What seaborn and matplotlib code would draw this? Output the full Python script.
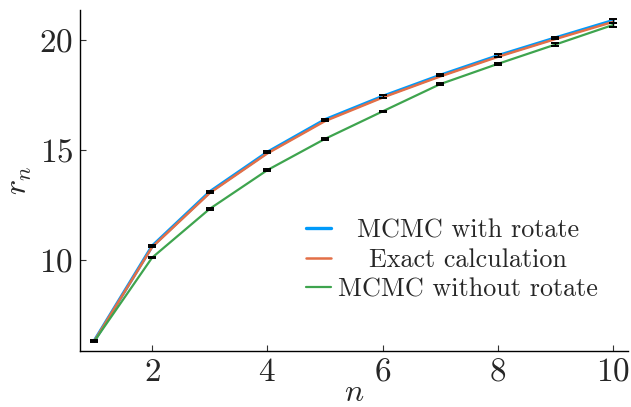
import seaborn as sns, pandas as pd, numpy as np
import matplotlib
matplotlib.use('Agg')
import matplotlib.pyplot as plt

n = [1, 2, 3, 4, 5, 6, 7, 8, 9, 10]
r_rot = [6.33, 10.62, 13.09, 14.89, 16.37, 17.43, 18.39, 19.28, 20.09, 20.88]
r_exact = [6.32, 10.58, 13.04, 14.84, 16.31, 17.38, 18.34, 19.23, 20.04, 20.82]
r_norot = [6.31, 10.10, 12.32, 14.08, 15.50, 16.75, 17.99, 18.91, 19.79, 20.68]
err_rot = [0.02, 0.04, 0.04, 0.04, 0.05, 0.05, 0.05, 0.06, 0.06, 0.09]
err_norot = [0.02, 0.03, 0.03, 0.04, 0.04, 0.04, 0.05, 0.05, 0.06, 0.10]
labels = ["MCMC with rotate", "Exact calculation", "MCMC without rotate"]
colors = ["#009AFA", "#E36F47", "#3EA44E"]
widths = [2.4, 1.8, 1.6]

df = pd.DataFrame({
    "n": n * 3,
    "r": r_rot + r_exact + r_norot,
    "series": [labels[0]] * 10 + [labels[1]] * 10 + [labels[2]] * 10,
})

sns.set_style("white")
plt.rcParams['font.family'] = ['cmr10']
plt.rcParams['mathtext.fontset'] = 'cm'
plt.rcParams['axes.formatter.use_mathtext'] = True

fig = plt.figure(figsize=(6.31, 4.07), dpi=100)
ax = fig.add_axes([80/631, 56/407, 548/631, 341/407])

for lab, c, w in zip(labels, colors, widths):
    sns.lineplot(x="n", y="r", data=df[df.series == lab], color=c, lw=w, ax=ax, label=lab)

# error bars of the two MCMC runs
for vals, errs in [(r_rot, err_rot), (r_norot, err_norot)]:
    ax.errorbar(n, vals, yerr=errs, fmt='none', ecolor='black', elinewidth=1.0,
                capsize=2.8, capthick=1.4, zorder=5)

ax.set_xlim(0.75, 10.26)
ax.set_ylim(5.86, 21.36)
ax.set_xticks([2, 4, 6, 8, 10])
ax.set_yticks([10, 15, 20])
ax.tick_params(direction='in', length=4.5, width=0.8, labelsize=24, pad=5, color='#333333',
               bottom=True, left=True)
for s in ['top', 'right']:
    ax.spines[s].set_visible(False)
for s in ['left', 'bottom']:
    ax.spines[s].set_linewidth(1.0)
    ax.spines[s].set_color('black')

ax.set_xlabel("$n$", fontsize=23, labelpad=-5)
ax.set_ylabel("$r_n$", fontsize=23, labelpad=4)

leg = ax.legend(loc='center', bbox_to_anchor=(0.679, 0.267), frameon=False, fontsize=18.8,
                handlelength=0.95, handletextpad=0.3, labelspacing=0.22, borderpad=0)

# centre the legend texts on the widest one
fig.canvas.draw()
rend = fig.canvas.get_renderer()
ws = [t.get_window_extent(rend).width for t in leg.get_texts()]
for t, wd in zip(leg.get_texts(), ws):
    t.set_position(((max(ws) - wd) / 2, 0))

fig.savefig("out.png", dpi=100)
